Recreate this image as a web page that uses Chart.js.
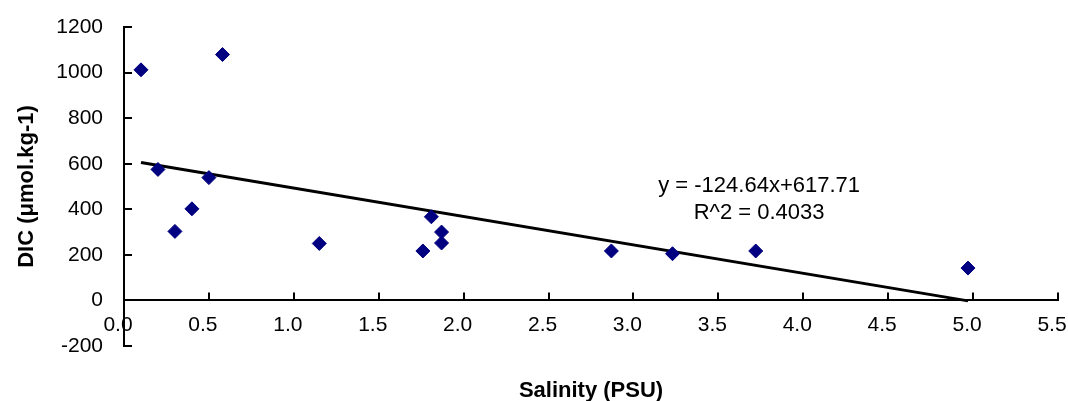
<!DOCTYPE html>
<html>
<head>
<meta charset="utf-8">
<script src="https://cdn.jsdelivr.net/npm/chart.js@4/dist/chart.umd.min.js"></script>
<style>
  html, body { margin: 0; padding: 0; background: #fff; }
  #wrap { width: 1068px; height: 401px; }
</style>
</head>
<body>
<div id="wrap"><canvas id="chart"></canvas></div>
<script>
// values
var salinity = [0.10, 0.58, 0.20, 0.50, 0.40, 0.30, 1.15, 1.76, 1.81, 1.87, 1.87, 2.87, 3.23, 3.72, 4.97];
var dic      = [1012, 1079, 575, 539, 402, 303, 250, 217, 367, 300, 252, 217, 205, 217, 142];

// trendline end points as drawn
var trendX = [0.10, 4.97];
var trendY = [605, -2];
var trendText = ['y = -124.64x+617.71', 'R^2 = 0.4033'];

var xTicks = [0, 0.5, 1, 1.5, 2, 2.5, 3, 3.5, 4, 4.5, 5, 5.5];
var yTicks = [-200, 0, 200, 400, 600, 800, 1000, 1200];

var xTitle = 'Salinity (PSU)';
var yTitle = 'DIC (μmol.kg-1)';

var FONT = "'Liberation Sans', Arial, sans-serif";

/**
 * Extras drawn on top: inward tick marks, axis titles and
 * the trendline label. Positions come from the scales.
 */
var extras = {
  id: 'extras',
  afterDraw: function(chart) {
    var ctx = chart.ctx;
    var xs = chart.scales.x, ys = chart.scales.y;
    var area = chart.chartArea;
    var y0 = ys.getPixelForValue(0);

    ctx.save();
    ctx.strokeStyle = '#000';
    ctx.lineWidth = 2;
    ctx.beginPath();
    yTicks.forEach(function(v) {
      var py = Math.round(ys.getPixelForValue(v));
      ctx.moveTo(area.left, py);
      ctx.lineTo(area.left + 8, py);
    });
    xTicks.forEach(function(v) {
      var px = Math.round(xs.getPixelForValue(v));
      ctx.moveTo(px, y0);
      ctx.lineTo(px, y0 - 8);
    });
    ctx.stroke();

    // trendline label
    ctx.fillStyle = '#000';
    ctx.font = '22px ' + FONT;
    ctx.textAlign = 'center';
    ctx.textBaseline = 'alphabetic';
    var lx = xs.getPixelForValue(3.74);
    var ly = ys.getPixelForValue(476);
    ctx.fillText(trendText[0], lx, ly);
    ctx.fillText(trendText[1], lx, ly + 26.6);

    // axis titles
    ctx.font = 'bold 22px ' + FONT;
    ctx.fillText(xTitle, (area.left + area.right) / 2, 397);
    ctx.translate(33, (area.top + area.bottom) / 2);
    ctx.rotate(-Math.PI / 2);
    ctx.fillText(yTitle, 0, 0);
    ctx.restore();
  }
};

var ctx = document.getElementById('chart').getContext('2d');
var chart = new Chart(ctx, {
  type: 'scatter',
  data: {
    datasets: [
      {
        label: 'DIC',
        data: salinity.map(function(s, i) { return {x: s, y: dic[i]}; }),
        pointStyle: 'rectRot',
        pointRadius: 7,
        backgroundColor: '#000080',
        borderColor: '#000080',
        borderWidth: 1,
        showLine: false
      },
      {
        label: 'Trend',
        type: 'line',
        data: trendX.map(function(s, i) { return {x: s, y: trendY[i]}; }),
        borderColor: '#000',
        borderWidth: 3,
        pointRadius: 0,
        fill: false,
        clip: false
      }
    ]
  },
  options: {
    responsive: true,
    maintainAspectRatio: false,
    animation: false,
    layout: { padding: { left: 0, top: 27, right: 10, bottom: 55 } },
    plugins: { legend: { display: false }, tooltip: { enabled: false } },
    scales: {
      x: {
        type: 'linear',
        position: { y: 0 },
        min: 0,
        max: 5.5,
        afterBuildTicks: function(s) { s.ticks = xTicks.map(function(v) { return {value: v}; }); },
        afterFit: function(s) { s.paddingLeft = 0; s.paddingRight = 0; },
        ticks: {
          autoSkip: false,
          maxRotation: 0,
          padding: 12,
          labelOffset: -6,
          color: '#000',
          font: { family: FONT, size: 21 },
          callback: function(v) { return Number(v).toFixed(1); }
        },
        grid: { display: false, drawTicks: false },
        border: { display: true, color: '#000', width: 2 }
      },
      y: {
        type: 'linear',
        position: 'left',
        min: -200,
        max: 1200,
        afterBuildTicks: function(s) { s.ticks = yTicks.map(function(v) { return {value: v}; }); },
        afterFit: function(s) { s.width = 124; s.paddingTop = 0; s.paddingBottom = 0; },
        ticks: {
          padding: 21,
          color: '#000',
          font: { family: FONT, size: 21 },
          callback: function(v) { return String(v); }
        },
        grid: { display: false, drawTicks: false },
        border: { display: true, color: '#000', width: 2 }
      }
    }
  },
  plugins: [extras]
});
</script>
</body>
</html>
